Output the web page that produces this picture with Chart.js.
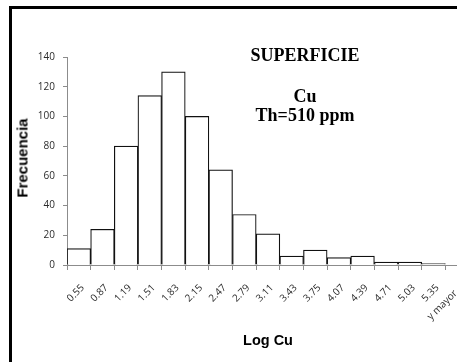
<!DOCTYPE html>
<html lang="es">
<head>
    <meta charset="UTF-8">
    <title>Histograma Log Cu - Superficie</title>
    <script src="https://cdn.jsdelivr.net/npm/chart.js"></script>
    <style>
        body {
            margin: 0;
            padding: 0;
            background: #fff;
            overflow: hidden;
        }
        .wrap {
            position: relative;
            width: 457px;
            height: 362px;
            overflow: hidden;
        }
        .frame {
            position: absolute;
            left: 9px;
            top: 6px;
            width: 520px;
            height: 420px;
            border-top: 3px solid #000;
            border-left: 3px solid #000;
        }
        canvas {
            position: absolute;
            left: 0;
            top: 0;
        }
        .txt {
            position: absolute;
            transform: translate(-50%, -50%);
            white-space: nowrap;
            color: #000;
        }
        .serif {
            font-family: 'Liberation Serif', 'DejaVu Serif', serif;
            font-weight: bold;
            font-size: 18px;
        }
        .sans {
            font-family: 'Liberation Sans', Arial, sans-serif;
            font-weight: bold;
        }
    </style>
</head>
<body>
    <div class="wrap">
        <div class="frame"></div>
        <canvas id="hist" width="490" height="362"></canvas>
        <div class="txt serif" style="left:305px; top:55px;">SUPERFICIE</div>
        <div class="txt serif" style="left:305px; top:96px;">Cu</div>
        <div class="txt serif" style="left:305px; top:115px;">Th=510 ppm</div>
        <div class="txt sans" style="left:22px; top:158px; font-size:15px; transform: translate(-50%, -50%) rotate(-90deg);">Frecuencia</div>
        <div class="txt sans" style="left:268px; top:340px; font-size:14.5px;">Log Cu</div>
    </div>

    <script>
        // clases y frecuencias del histograma
        const clases = ['0.55', '0.87', '1.19', '1.51', '1.83', '2.15', '2.47', '2.79', '3.11',
                        '3.43', '3.75', '4.07', '4.39', '4.71', '5.03', '5.35', 'y mayor...'];
        const frecuencia = [11, 24, 80, 114, 130, 100, 64, 34, 21, 6, 10, 5, 6, 2, 2, 1, 0];
        const yTicks = [0, 20, 40, 60, 80, 100, 120, 140];

        const axisGray = '#8c8c8c';
        const tickFont = { family: "'Open Sans', 'Liberation Sans', sans-serif", size: 10 };

        new Chart(document.getElementById('hist'), {
            type: 'bar',
            data: {
                labels: clases,
                datasets: [{
                    data: frecuencia,
                    backgroundColor: '#ffffff',
                    borderColor: '#111111',
                    borderWidth: 1.2,
                    barPercentage: 1,
                    categoryPercentage: 1
                }]
            },
            options: {
                responsive: false,
                animation: false,
                events: [],
                layout: { padding: { left: 0, right: 21, top: 57, bottom: 0 } },
                plugins: {
                    legend: { display: false },
                    tooltip: { enabled: false }
                },
                scales: {
                    x: {
                        offset: true,
                        border: { color: axisGray, width: 1 },
                        grid: {
                            offset: true,
                            drawOnChartArea: false,
                            tickLength: 5,
                            color: axisGray
                        },
                        ticks: {
                            autoSkip: false,
                            minRotation: 45,
                            maxRotation: 45,
                            padding: 12,
                            labelOffset: 4,
                            color: '#2b2b2b',
                            font: tickFont
                        },
                        afterFit: (s) => {
                            s.height = 97;
                            s.paddingLeft = 0;
                            s.paddingRight = 0;
                        }
                    },
                    y: {
                        min: 0,
                        max: 140,
                        border: { color: axisGray, width: 1 },
                        grid: {
                            drawOnChartArea: false,
                            tickLength: 4,
                            color: axisGray
                        },
                        afterBuildTicks: (s) => {
                            s.ticks = yTicks.map(v => ({ value: v }));
                        },
                        ticks: {
                            padding: 8,
                            color: '#2b2b2b',
                            font: tickFont
                        },
                        afterFit: (s) => {
                            s.width = 67;
                            s.paddingTop = 0;
                            s.paddingBottom = 0;
                        }
                    }
                }
            }
        });
    </script>
</body>
</html>
